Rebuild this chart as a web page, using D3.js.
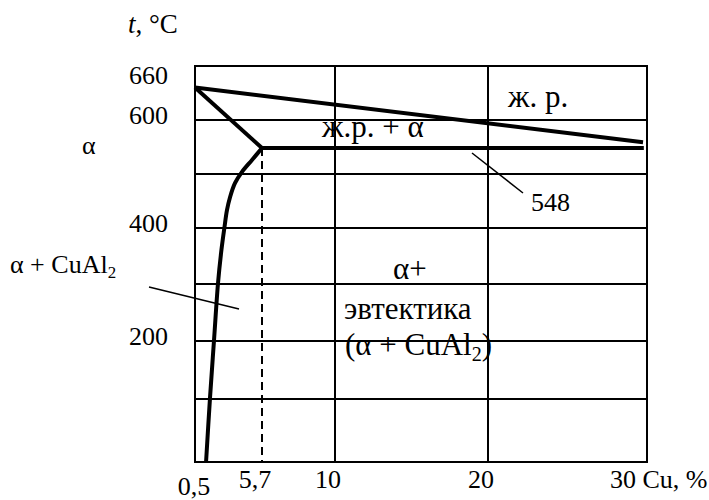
<!DOCTYPE html>
<html>
<head>
<meta charset="utf-8">
<script src="https://cdn.jsdelivr.net/npm/d3@7"></script>
<style>
  html, body { margin: 0; padding: 0; background: #fff; }
  svg text { font-family: "Liberation Serif", "Times New Roman", serif; fill: #000; }
</style>
</head>
<body>
<svg id="chart" width="709" height="500"></svg>
<script>
// Al–Cu phase diagram (aluminium-rich side)

// temperature grid (°C) and composition grid (Cu, %)
const tempGrid = [100, 200, 300, 400, 500, 600];
const cuGrid = [10, 20];
const tempTicks = [660, 600, 400, 200];
const cuTicks = [0.5, 5.7, 10, 20, 30];
const cuTickLabels = ["0,5", "5,7", "10", "20", "30 Cu, %"];

// key points
const tMeltAl = 660;
const tEutectic = 548;
const cEutectic = 5.7;

// upper line from the Al melting point
const upperLine = [[0, 660], [29.75, 559]];
// α liquidus: melting point to the eutectic point
const alphaLiquidus = [[0, 660], [5.7, 548]];
// eutectic isotherm
const eutecticLine = [[5.7, 548], [29.8, 548]];
// solvus of α (solubility of Cu in Al)
const solvus = [
  [5.7, 548], [4.85, 526], [4.0, 504], [3.4, 483], [2.98, 457],
  [2.72, 433], [2.51, 402], [2.25, 361], [1.96, 302],
  [1.62, 202], [1.28, 103], [0.94, 0]
];

const svg = d3.select("#chart");

// schematic, hand-spaced axes
const x = d3.scaleLinear()
  .domain([0, 5.7, 10, 20, 30])
  .range([195, 262, 335, 488, 647]);
const y = d3.scaleLinear()
  .domain([0, 100, 200, 300, 400, 500, 600, 700])
  .range([462, 399, 341, 284, 228, 174, 120, 66]);

const line = d3.line().x(d => x(d[0])).y(d => y(d[1]));

const g = svg.append("g");

// grid lines
g.selectAll("line.h").data(tempGrid).join("line")
  .attr("x1", x(0)).attr("x2", x(30))
  .attr("y1", d => y(d)).attr("y2", d => y(d))
  .attr("stroke", "#000").attr("stroke-width", 2);
g.selectAll("line.v").data(cuGrid).join("line")
  .attr("x1", d => x(d)).attr("x2", d => x(d))
  .attr("y1", y(0)).attr("y2", y(700))
  .attr("stroke", "#000").attr("stroke-width", 2);

// frame
g.append("rect")
  .attr("x", x(0)).attr("y", y(700))
  .attr("width", x(30) - x(0)).attr("height", y(0) - y(700))
  .attr("fill", "none").attr("stroke", "#000").attr("stroke-width", 2);

// dashed drop line from the eutectic point
g.append("line")
  .attr("x1", x(cEutectic)).attr("x2", x(cEutectic))
  .attr("y1", y(tEutectic)).attr("y2", y(0))
  .attr("stroke", "#000").attr("stroke-width", 2)
  .attr("stroke-dasharray", "8,5");

// phase boundaries
const heavy = (data, curve) => g.append("path")
  .attr("d", line.curve(curve || d3.curveLinear)(data))
  .attr("fill", "none").attr("stroke", "#000")
  .attr("stroke-width", 4).attr("stroke-linejoin", "round");
heavy(upperLine);
heavy(alphaLiquidus);
heavy(eutecticLine);
heavy(solvus, d3.curveCatmullRom);

// leader lines
g.append("line")
  .attr("x1", 149).attr("y1", 287).attr("x2", 239).attr("y2", 309)
  .attr("stroke", "#000").attr("stroke-width", 1.5);
g.append("line")
  .attr("x1", 472).attr("y1", 153).attr("x2", 523).attr("y2", 193)
  .attr("stroke", "#000").attr("stroke-width", 1.5);

const FS = 26;     // axis labels
const FS_IN = 31;  // phase-field labels inside the grid

// temperature labels
svg.selectAll("text.yt").data(tempTicks).join("text")
  .attr("x", 168)
  .attr("y", d => d === tMeltAl ? y(d) - 4 : y(d) + 4)
  .attr("text-anchor", "end")
  .attr("font-size", FS)
  .text(d => d);

// composition labels
svg.selectAll("text.xt").data(cuTicks).join("text")
  .attr("x", (d, i) => i === cuTicks.length - 1 ? x(d) - 37 : x(d) - 7)
  .attr("y", (d, i) => i === 0 ? 495 : 488)
  .attr("text-anchor", (d, i) => i === cuTicks.length - 1 ? "start" : "middle")
  .attr("font-size", FS)
  .text((d, i) => cuTickLabels[i]);

// axis title
const tt = svg.append("text").attr("x", 128).attr("y", 33).attr("font-size", FS + 1);
tt.append("tspan").attr("font-style", "italic").text("t");
tt.append("tspan").text(", °C");

// region labels
const label = (px, py, txt, fs) =>
  svg.append("text").attr("x", px).attr("y", py).attr("font-size", fs).text(txt);
const cuAl2 = (px, py, pre, post, fs) => {
  const t = svg.append("text").attr("x", px).attr("y", py).attr("font-size", fs);
  t.append("tspan").text(pre + "CuAl");
  t.append("tspan").attr("font-size", fs * 0.65).attr("dy", fs * 0.19).text("2");
  if (post) t.append("tspan").attr("dy", -fs * 0.19).text(post);
  return t;
};

label(82, 154, "α", FS);
cuAl2(10, 273, "α + ", "", FS);
label(508, 107, "ж. р.", FS_IN);
label(322, 137, "ж.р. + α", FS_IN);
label(531, 211, String(tEutectic), FS);
label(393, 279, "α+", FS_IN);
label(344, 319, "эвтектика", FS_IN);
cuAl2(345, 355, "(α + ", ")", FS_IN);
</script>
</body>
</html>
